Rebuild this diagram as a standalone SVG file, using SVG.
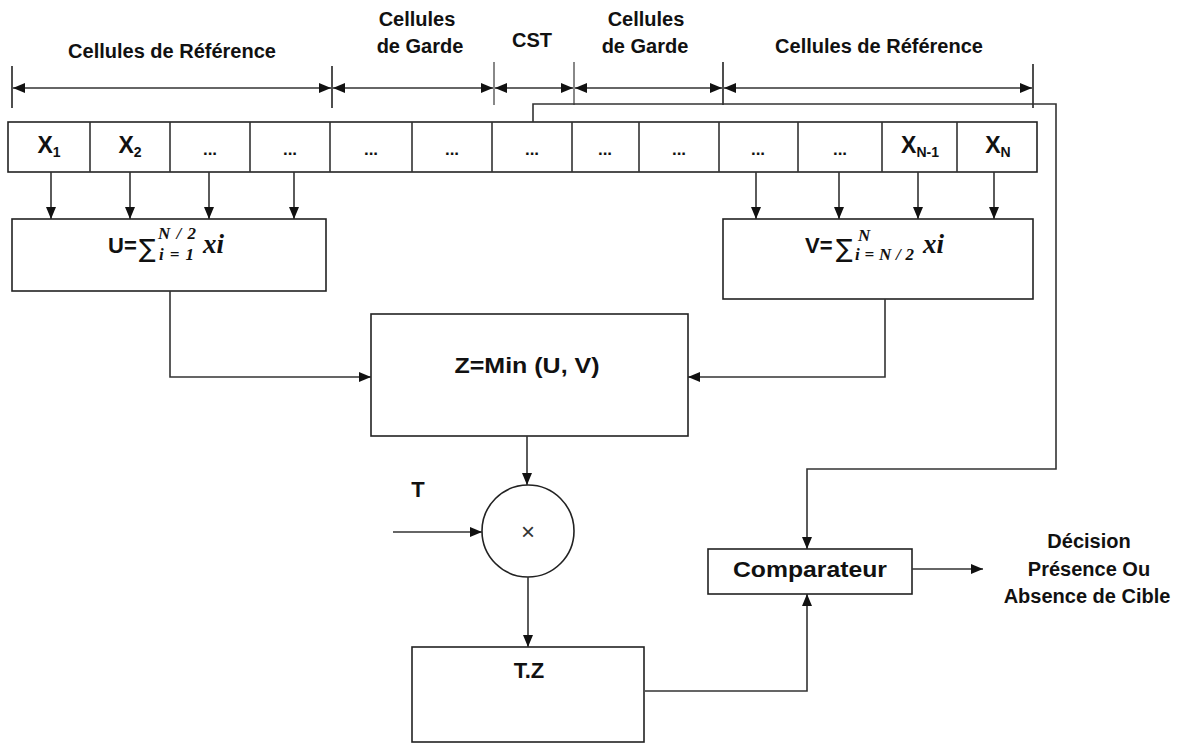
<svg xmlns="http://www.w3.org/2000/svg" width="1182" height="743" viewBox="0 0 1182 743">
<style>
.t{font-family:"Liberation Sans",Arial,sans-serif;font-weight:bold;fill:#111}
.m{font-family:"Liberation Serif","DejaVu Serif",serif;font-weight:bold;font-style:italic;fill:#111}
.sg{font-family:"DejaVu Sans",sans-serif;fill:#111}
.box{fill:#fff;stroke:#222;stroke-width:1.6}
.ln{fill:none;stroke:#333;stroke-width:1.6}
.tick{stroke:#222;stroke-width:1.6}
.gt{stroke:#888;stroke-width:2}
</style>
<defs>
<marker id="ah" viewBox="0 0 12 10" refX="12" refY="5" markerWidth="12" markerHeight="10" markerUnits="userSpaceOnUse" orient="auto-start-reverse">
<path d="M0,0 L12,5 L0,10 z" fill="#111"/>
</marker>
</defs>
<rect width="1182" height="743" fill="#fff"/>

<g id="dimension-labels">
<text class="t" x="172" y="58" font-size="20" text-anchor="middle">Cellules de Référence</text>
<text class="t" x="417" y="26" font-size="20" text-anchor="middle">Cellules</text>
<text class="t" x="420" y="53" font-size="20" text-anchor="middle">de Garde</text>
<text class="t" x="532" y="47" font-size="20" text-anchor="middle">CST</text>
<text class="t" x="646" y="26" font-size="20" text-anchor="middle">Cellules</text>
<text class="t" x="645" y="53" font-size="20" text-anchor="middle">de Garde</text>
<text class="t" x="879" y="53" font-size="20" text-anchor="middle">Cellules de Référence</text>
</g>

<g id="dimension-lines">
<line class="tick" x1="12" y1="66" x2="12" y2="108"/>
<line class="tick" x1="332" y1="66" x2="332" y2="108"/>
<line class="gt" x1="494" y1="62" x2="494" y2="105"/>
<line class="gt" x1="574" y1="62" x2="574" y2="105"/>
<line class="tick" x1="723" y1="62" x2="723" y2="105"/>
<line class="tick" x1="1033" y1="64" x2="1033" y2="108"/>
<line class="ln" x1="13" y1="88" x2="331" y2="88" marker-start="url(#ah)" marker-end="url(#ah)"/>
<line class="ln" x1="333" y1="88" x2="493" y2="88" marker-start="url(#ah)" marker-end="url(#ah)"/>
<line class="ln" x1="495" y1="88" x2="573" y2="88" marker-start="url(#ah)" marker-end="url(#ah)"/>
<line class="ln" x1="575" y1="88" x2="722" y2="88" marker-start="url(#ah)" marker-end="url(#ah)"/>
<line class="ln" x1="724" y1="88" x2="1032" y2="88" marker-start="url(#ah)" marker-end="url(#ah)"/>
</g>

<g id="cells">
<rect class="box" x="8" y="122" width="1029" height="50"/>
<path class="ln" d="M90,122V172M170,122V172M250,122V172M330,122V172M412,122V172M492,122V172M572,122V172M639,122V172M719,122V172M798,122V172M882,122V172M957,122V172"/>
<text class="t" x="49" y="153" font-size="23" text-anchor="middle">X<tspan font-size="14" dy="4">1</tspan></text>
<text class="t" x="130" y="153" font-size="23" text-anchor="middle">X<tspan font-size="14" dy="4">2</tspan></text>
<text class="t" x="210" y="155" font-size="17" text-anchor="middle">...</text>
<text class="t" x="290" y="155" font-size="17" text-anchor="middle">...</text>
<text class="t" x="371" y="155" font-size="17" text-anchor="middle">...</text>
<text class="t" x="452" y="155" font-size="17" text-anchor="middle">...</text>
<text class="t" x="532" y="155" font-size="17" text-anchor="middle">...</text>
<text class="t" x="605" y="155" font-size="17" text-anchor="middle">...</text>
<text class="t" x="679" y="155" font-size="17" text-anchor="middle">...</text>
<text class="t" x="758" y="155" font-size="17" text-anchor="middle">...</text>
<text class="t" x="840" y="155" font-size="17" text-anchor="middle">...</text>
<text class="t" x="920" y="153" font-size="23" text-anchor="middle">X<tspan font-size="14" dy="4">N-1</tspan></text>
<text class="t" x="998" y="153" font-size="23" text-anchor="middle">X<tspan font-size="14" dy="4">N</tspan></text>
</g>

<g id="U-box">
<rect class="box" x="12" y="219" width="314" height="72"/>
<text class="t" x="108" y="253" font-size="22">U=</text>
<text class="sg" x="139" y="257" font-size="25">∑</text>
<text class="m" x="158" y="239" font-size="17" textLength="38" lengthAdjust="spacing">N/2</text>
<text class="m" x="159" y="260" font-size="17" textLength="35" lengthAdjust="spacing">i=1</text>
<text class="m" x="203" y="253" font-size="27">xi</text>
</g>

<g id="V-box">
<rect class="box" x="723" y="219" width="310" height="80"/>
<text class="t" x="805" y="253" font-size="22">V=</text>
<text class="sg" x="836" y="257" font-size="25">∑</text>
<text class="m" x="858" y="241" font-size="17">N</text>
<text class="m" x="855" y="260" font-size="17" textLength="59" lengthAdjust="spacing">i=N/2</text>
<text class="m" x="923" y="253" font-size="27">xi</text>
</g>

<g id="Z-box">
<rect class="box" x="371" y="314" width="317" height="122"/>
<text class="t" x="527" y="373" font-size="22" text-anchor="middle" textLength="145" lengthAdjust="spacingAndGlyphs">Z=Min (U, V)</text>
</g>

<g id="multiplier">
<circle cx="528" cy="531" r="46" fill="#fff" stroke="#222" stroke-width="1.6"/>
<text x="528" y="540" font-family="Liberation Sans,Arial,sans-serif" font-size="24" fill="#333" text-anchor="middle">×</text>
</g>

<g id="T-label">
<text class="t" x="418" y="497" font-size="22" text-anchor="middle">T</text>
</g>

<g id="TZ-box">
<rect class="box" x="412" y="647" width="232" height="95"/>
<text class="t" x="529" y="678" font-size="22" text-anchor="middle">T.Z</text>
</g>

<g id="comparateur">
<rect class="box" x="708" y="549" width="204" height="45"/>
<text class="t" x="810" y="577" font-size="22" text-anchor="middle" textLength="154" lengthAdjust="spacingAndGlyphs">Comparateur</text>
</g>

<g id="decision">
<text class="t" x="1089" y="548" font-size="20" text-anchor="middle">Décision</text>
<text class="t" x="1089" y="576" font-size="20" text-anchor="middle">Présence Ou</text>
<text class="t" x="1087" y="603" font-size="20" text-anchor="middle">Absence de Cible</text>
</g>

<g id="connectors">
<line class="ln" x1="51" y1="172" x2="51" y2="219" marker-end="url(#ah)"/>
<line class="ln" x1="130" y1="172" x2="130" y2="219" marker-end="url(#ah)"/>
<line class="ln" x1="209" y1="172" x2="209" y2="219" marker-end="url(#ah)"/>
<line class="ln" x1="294" y1="172" x2="294" y2="219" marker-end="url(#ah)"/>
<line class="ln" x1="756" y1="172" x2="756" y2="219" marker-end="url(#ah)"/>
<line class="ln" x1="839" y1="172" x2="839" y2="219" marker-end="url(#ah)"/>
<line class="ln" x1="918" y1="172" x2="918" y2="219" marker-end="url(#ah)"/>
<line class="ln" x1="994" y1="172" x2="994" y2="219" marker-end="url(#ah)"/>
<path class="ln" d="M170,291V377H371" marker-end="url(#ah)"/>
<path class="ln" d="M885,299V377H688" marker-end="url(#ah)"/>
<line class="ln" x1="527" y1="436" x2="527" y2="485" marker-end="url(#ah)"/>
<line class="ln" x1="393" y1="532" x2="482" y2="532" marker-end="url(#ah)"/>
<line class="ln" x1="528" y1="577" x2="528" y2="647" marker-end="url(#ah)"/>
<path class="ln" d="M645,691H807V594" marker-end="url(#ah)"/>
<path class="ln" d="M533,122V104H1056V469H807V549" marker-end="url(#ah)"/>
<line class="ln" x1="912" y1="569" x2="983" y2="569" marker-end="url(#ah)"/>
</g>
</svg>
